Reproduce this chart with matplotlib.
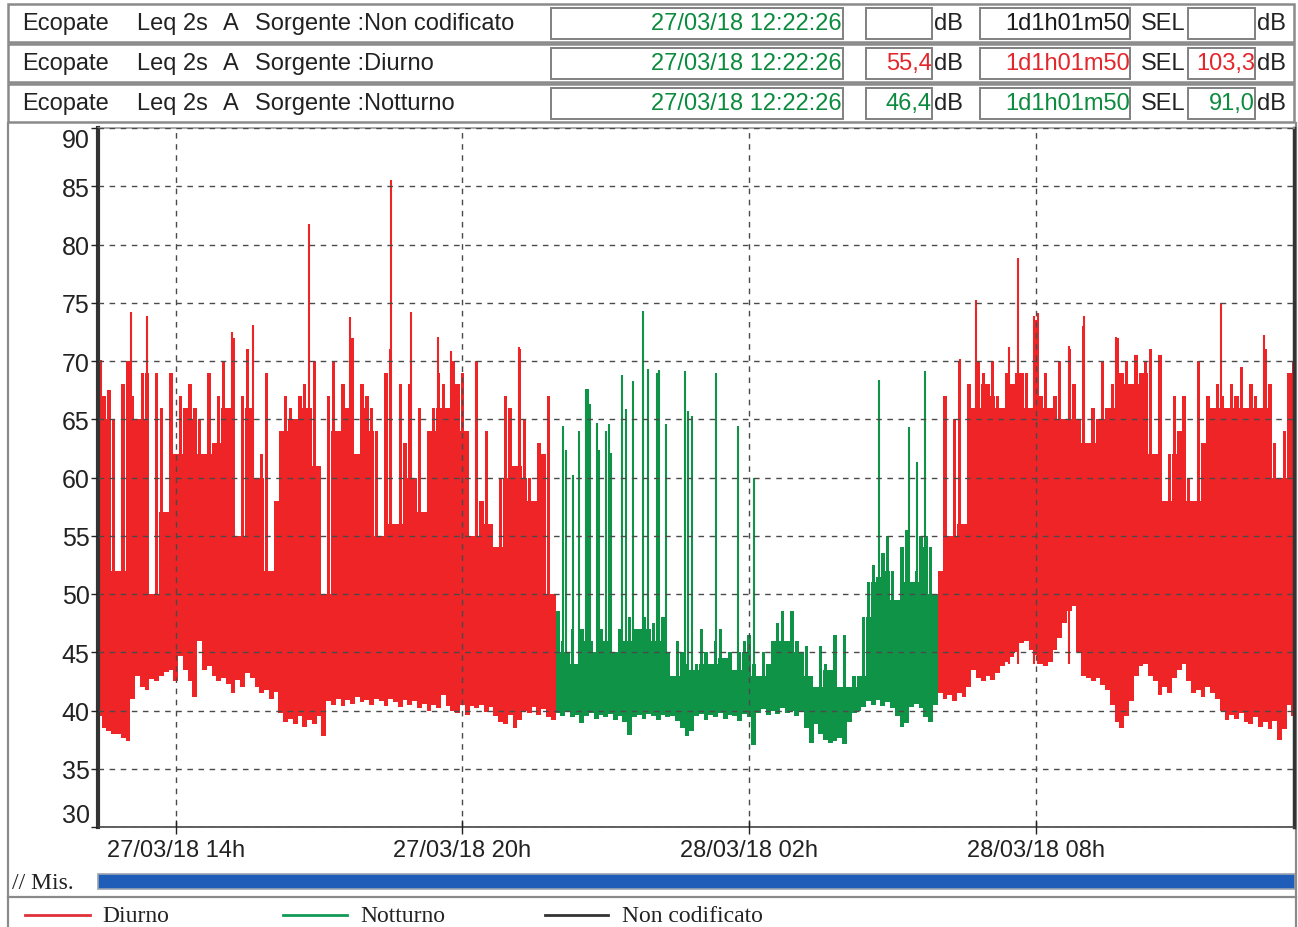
import numpy as np
import matplotlib
matplotlib.use('Agg')
import matplotlib.pyplot as plt
from matplotlib.patches import Rectangle

plt.rcParams['font.family'] = ['Liberation Sans', 'DejaVu Sans']

# header table
sources = ['Non codificato', 'Diurno', 'Notturno']
start_label = '27/03/18 12:22:26'
duration = '1d1h01m50'
leq_values = ['', '55,4', '46,4']
sel_values = ['', '103,3', '91,0']
row_colors = ['#1a1a1a', '#e3262c', '#0c8a3e']

# time axis (hours from 27/03/18 00:00), tick labels
t_start, t_end = 12.374, 37.404
tick_hours = [14, 20, 26, 32]
tick_labels = ['27/03/18 14h', '27/03/18 20h', '28/03/18 02h', '28/03/18 08h']

# Leq 2s, min / max per 6 min column, dB(A)
day1_lo = [39.5, 38.5, 38.2, 38.0, 38.0, 37.6, 37.4, 41.0, 43.0, 42.0,
           41.8, 42.7, 42.5, 43.0, 43.3, 43.5, 42.5, 44.7, 43.5, 42.5,
           41.2, 46.0, 43.5, 43.8, 43.0, 42.5, 42.8, 42.3, 41.5, 42.6,
           42.0, 43.2, 42.8, 42.0, 41.5, 41.8, 41.0, 41.6, 39.8, 39.0,
           39.3, 38.8, 39.5, 38.6, 39.2, 38.8, 39.5, 37.8, 40.8, 40.5,
           41.0, 40.4, 40.9, 40.6, 41.2, 40.7, 40.9, 40.5, 41.0, 40.8,
           40.4, 41.0, 40.7, 40.3, 40.9, 40.5, 40.8, 40.2, 40.6, 40.0,
           40.5, 40.2, 41.3, 40.4, 40.0, 39.8, 40.5, 39.6, 40.4, 40.2,
           40.5, 39.9, 40.3, 39.5, 39.0, 38.8, 39.6, 38.5, 39.2, 40.0,
           39.8, 40.3, 39.6, 40.1, 39.4, 39.2]
day1_hi = [70, 67, 67.5, 65, 52, 68, 70, 67, 65, 69,
           69, 50, 69, 66, 57, 69, 62, 67, 66, 68,
           66, 65, 62, 69, 63, 67, 70, 66, 72, 55,
           67, 71, 66, 60, 62, 69, 52, 58, 64, 67,
           66, 65, 67, 68, 66, 70, 61, 50, 67, 70,
           64, 68, 66, 72, 62, 68, 67, 66, 64, 55,
           69, 71, 56, 68, 63, 68, 60, 66, 57, 64,
           66, 69, 68, 66, 70, 68, 69, 64, 55, 70,
           58, 64, 56, 54, 60, 67, 66, 61, 71, 65,
           60, 58, 63, 62, 67, 50]

night_lo = [39.8, 39.5, 39.9, 39.4, 39.6, 38.9, 39.5, 39.8, 39.3, 39.6,
            39.4, 39.7, 39.2, 39.5, 39.0, 37.9, 39.4, 39.6, 39.3, 39.7,
            39.5, 39.2, 39.6, 39.4, 39.5, 39.1, 38.5, 37.8, 38.2, 39.5,
            39.7, 39.2, 39.6, 39.4, 39.8, 39.3, 39.6, 39.5, 39.1, 39.7,
            39.4, 37.0, 39.8, 40.1, 39.6, 40.0, 39.7, 40.2, 39.8, 40.0,
            39.5, 39.9, 38.5, 37.2, 38.8, 38.0, 37.5, 37.2, 37.4, 37.6,
            37.1, 39.0, 39.8, 40.0, 40.3, 40.8, 40.5, 40.9, 40.4, 40.7,
            40.2, 39.5, 38.6, 38.9, 40.3, 40.6, 40.2, 39.4, 39.0, 40.5]
night_hi = [48.5, 46, 45, 47, 44, 47, 49, 46, 45, 47,
            46, 48, 45, 47, 46, 48, 47, 47, 48, 47,
            47.5, 46, 48, 45, 43, 46, 45, 44, 43.5, 44,
            47, 45, 44, 46, 47, 44.5, 45, 43.5, 45, 46,
            46.5, 44, 43, 45, 44, 46, 47.5, 48.5, 46, 48.5,
            46, 45, 45.5, 43, 42, 45.5, 44, 43.5, 46.5, 42,
            46.5, 42, 43, 43, 48, 51, 52.5, 51.5, 53.5, 55,
            52, 49.5, 54, 55.5, 51, 52, 55, 55, 54, 50]

day2_lo = [41.5, 41.0, 41.3, 40.8, 41.5, 41.2, 42.0, 43.5, 42.8, 42.5,
           43.0, 42.6, 43.2, 43.8, 44.2, 44.6, 45.0, 45.8, 46.0, 45.2,
           44.8, 44.0, 43.8, 44.2, 45.2, 46.2, 47.5, 48.5, 49.0, 45.0,
           43.0, 42.8, 42.5, 42.8, 42.2, 41.8, 40.5, 39.0, 38.5, 39.5,
           40.8, 43.0, 43.8, 44.0, 43.0, 42.5, 41.3, 42.0, 41.5, 42.8,
           43.5, 44.0, 42.5, 41.5, 41.8, 41.2, 42.0, 41.5, 41.0, 40.0,
           39.2, 39.6, 39.3, 39.8, 39.0, 38.8, 39.4, 38.6, 39.0, 38.4,
           39.1, 37.5, 38.4, 40.5, 39.5]
day2_hi = [52, 67, 55, 65, 70, 56, 68, 66, 70, 69,
           68, 70, 67, 66, 69, 68, 69, 69, 69, 66,
           73.5, 67, 69, 66, 67, 70, 65, 71, 68, 65,
           73, 63, 66, 65, 70, 66, 68, 72, 69, 70,
           68, 70.5, 69, 70, 71, 62, 70.5, 58, 62, 67,
           64, 67, 60, 58, 70, 63, 67, 66, 68, 67,
           66, 68, 67, 69.5, 66, 68, 67, 66, 71, 68,
           63, 60, 64, 69, 70]

# single 2 s events standing out of the band
red_spike_t = [12.44, 13.06, 13.40, 15.18, 15.62, 16.80, 17.65, 18.51, 18.92, 19.49,
               19.77, 20.29, 21.19, 30.41, 30.75, 31.44, 31.63, 31.97, 32.04, 32.70,
               33.00, 33.68, 35.88, 36.77]
red_spike_v = [70.1, 74.2, 73.9, 72.5, 73.1, 81.8, 73.8, 85.5, 74.2, 72.1,
               70.9, 70.0, 71.2, 70.2, 75.2, 71.2, 78.8, 73.9, 74.1, 71.3,
               73.9, 72.1, 75.0, 72.2]
green_spike_t = [22.11, 22.16, 22.31, 22.43, 22.58, 22.62, 22.68, 22.81, 22.86, 23.00,
                 23.07, 23.12, 23.35, 23.42, 23.58, 23.77, 23.88, 24.07, 24.11, 24.27,
                 24.65, 24.73, 24.81, 25.30, 25.77, 26.10, 28.71, 29.35, 29.51, 29.68]
green_spike_v = [64.4, 62.4, 60.2, 64.0, 67.6, 67.6, 66.3, 64.7, 62.4, 64.0,
                 64.6, 62.1, 68.8, 65.9, 68.3, 74.3, 69.3, 69.0, 69.2, 64.6,
                 69.1, 65.7, 65.3, 69.0, 64.4, 60.0, 68.4, 64.3, 61.3, 69.1]

RED = '#ee2427'
GREEN = '#0f9447'
W, H = 1298, 928
FS = 17

fig = plt.figure(figsize=(W / 100, H / 100), dpi=100)
fig.patch.set_facecolor('white')

# pixel overlay for table, frame, measure bar and legend
ovl = fig.add_axes([0, 0, 1, 1])
ovl.set_xlim(0, W)
ovl.set_ylim(H, 0)
ovl.axis('off')


def box(x0, y0, x1, y1, ec='#808080', lw=1.4):
    ovl.add_patch(Rectangle((x0, y0), x1 - x0, y1 - y0, fill=False, ec=ec, lw=lw))


for i, src in enumerate(sources):
    y0 = 5 + 40 * i
    yc = y0 + 19
    col = row_colors[i]
    box(8, y0, 1294, y0 + 38, ec='#8a8a8a', lw=1.8)
    for x0, x1 in [(551, 843), (866, 932), (980, 1130), (1188, 1255)]:
        box(x0, y0 + 4, x1, y0 + 35)
    ovl.text(22, yc, 'Ecopate', fontsize=FS, va='center', color='#222')
    ovl.text(137, yc, 'Leq 2s', fontsize=FS, va='center', color='#222')
    ovl.text(223, yc, 'A', fontsize=FS, va='center', color='#222')
    ovl.text(255, yc, 'Sorgente :' + src, fontsize=FS, va='center', color='#222')
    ovl.text(842, yc, start_label, fontsize=FS, va='center', ha='right', color='#0c8a3e')
    ovl.text(932, yc, leq_values[i], fontsize=FS, va='center', ha='right', color=col)
    ovl.text(934, yc, 'dB', fontsize=FS, va='center', color='#222')
    ovl.text(1130, yc, duration, fontsize=FS, va='center', ha='right', color=col)
    ovl.text(1141, yc, 'SEL', fontsize=FS, va='center', color='#222')
    ovl.text(1255, yc, sel_values[i], fontsize=FS, va='center', ha='right', color=col)
    ovl.text(1257, yc, 'dB', fontsize=FS, va='center', color='#222')

# chart frame
ovl.plot([8, 8], [124, 928], color='#8a8a8a', lw=1.6)
ovl.plot([1296, 1296], [124, 928], color='#8a8a8a', lw=1.6)
ovl.plot([8, 1296], [898, 898], color='#8a8a8a', lw=1.6)

# measure bar
ovl.text(12, 884, '// Mis.', fontsize=17, va='center', family='Liberation Serif', color='#222')
ovl.add_patch(Rectangle((98, 875), 1197, 15, facecolor='#1f5db9', ec='#9aa4b0', lw=1.2))

# legend
for (x0, x1, xt), c, lab in zip([(25, 90, 102), (283, 347, 360), (545, 608, 622)],
                                ['#e0303a', '#129a55', '#333333'],
                                ['Diurno', 'Notturno', 'Non codificato']):
    ovl.plot([x0, x1], [916, 916], color=c, lw=2)
    ovl.text(xt, 917, lab, fontsize=17, va='center', family='Liberation Serif', color='#222')

# time history: solid band up to the lowest neighbouring max, single lines above it
ax = fig.add_axes([98 / W, 1 - 828 / H, (1294 - 98) / W, (828 - 129) / H])
step = 0.1
segments = [
    (np.arange(len(day1_lo)) * step + 12.4, day1_lo, day1_hi, RED),
    (np.arange(len(night_lo)) * step + 22.0, night_lo, night_hi, GREEN),
    (np.arange(len(day2_lo)) * step + 30.0, day2_lo, day2_hi, RED),
]
for t, lo, hi, c in segments:
    lo = np.array(lo)
    hi = np.array(hi)
    padded = np.concatenate([[hi[0]], hi, [hi[-1]]])
    core = np.minimum(np.minimum(padded[:-2], padded[2:]), hi)
    core = np.maximum(core, lo)
    ax.bar(t, core - lo, bottom=lo, width=step, color=c, linewidth=0, zorder=1)
    ax.bar(t, hi - core, bottom=core, width=step * 0.72, color=c, linewidth=0, zorder=1)

ax.vlines(red_spike_t, 44, red_spike_v, color=RED, lw=1.5, zorder=1)
ax.vlines(green_spike_t, 41, green_spike_v, color=GREEN, lw=1.5, zorder=1)

ax.set_xlim(t_start, t_end)
ax.set_ylim(30, 90)
ax.set_yticks(range(30, 91, 5))
ax.set_xticks(tick_hours)
ax.set_xticklabels(tick_labels)
ax.set_axisbelow(False)
ax.grid(True, linestyle=(0, (4, 4)), color='#4a4a4a', lw=1.0)
ax.tick_params(axis='y', direction='out', length=5, width=1, labelsize=18, pad=1, colors='#222')
ax.tick_params(axis='x', direction='inout', length=10, width=1, labelsize=17, pad=4, colors='#222')
ylabels = ax.get_yticklabels()
ylabels[0].set_va('bottom')
ylabels[-1].set_va('top')
ax.spines['left'].set_linewidth(3)
ax.spines['left'].set_color('#333')
ax.spines['bottom'].set_linewidth(1.2)
ax.spines['bottom'].set_color('#444')
ax.spines['top'].set_linewidth(1.2)
ax.spines['top'].set_color('#999')
ax.spines['right'].set_linewidth(2.5)
ax.spines['right'].set_color('#333')

fig.savefig('out.png', dpi=100, facecolor='white')
